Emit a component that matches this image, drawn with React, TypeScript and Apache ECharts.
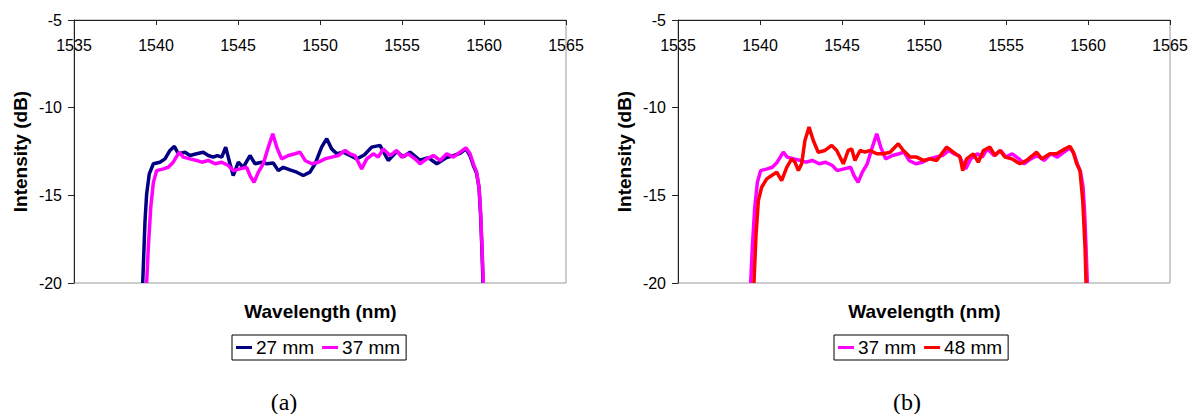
import React, { useEffect, useRef } from "react";
import * as echarts from "echarts";

// Wavelength (nm) / intensity (dB)
const wl27 = [1539.19, 1539.33, 1539.43, 1539.59, 1539.84, 1540.24, 1540.55, 1540.85, 1541.12, 1541.36, 1541.77, 1542.07, 1542.48, 1542.88, 1543.19, 1543.49, 1543.74, 1544.01, 1544.25, 1544.51, 1544.71, 1545.02, 1545.32, 1545.73, 1546.04, 1546.45, 1546.75, 1547.15, 1547.46, 1547.76, 1548.17, 1548.58, 1548.98, 1549.39, 1549.7, 1550.1, 1550.41, 1550.71, 1551.02, 1551.42, 1551.83, 1552.24, 1552.7, 1553.15, 1553.66, 1554.16, 1554.68, 1555.08, 1555.49, 1556.1, 1556.6, 1557.12, 1557.72, 1558.1, 1558.54, 1558.9, 1559.15, 1559.35, 1559.55, 1559.7, 1559.79, 1559.87, 1559.94];
const int27 = [-20, -16.45, -14.92, -13.78, -13.2, -13.11, -12.92, -12.44, -12.21, -12.63, -12.54, -12.73, -12.63, -12.54, -12.73, -12.82, -12.73, -12.82, -12.25, -13.2, -13.87, -13.11, -13.4, -12.73, -13.2, -13.11, -13.2, -13.16, -13.59, -13.4, -13.55, -13.68, -13.87, -13.68, -13.2, -12.25, -11.77, -12.35, -12.63, -12.54, -12.73, -12.92, -12.7, -12.25, -12.15, -13.01, -12.5, -12.8, -12.54, -13.0, -12.85, -13.2, -12.85, -12.75, -12.6, -12.35, -12.75, -13.3, -13.75, -14.6, -16.1, -18.0, -20];

const wl37 = [1539.43, 1539.53, 1539.68, 1539.84, 1540.04, 1540.45, 1540.75, 1541.05, 1541.42, 1541.66, 1542.07, 1542.48, 1542.79, 1543.19, 1543.6, 1544.01, 1544.41, 1544.71, 1545.12, 1545.53, 1545.73, 1545.98, 1546.24, 1546.54, 1546.85, 1547.12, 1547.36, 1547.66, 1548.07, 1548.48, 1548.78, 1549.09, 1549.49, 1549.9, 1550.3, 1550.71, 1551.12, 1551.52, 1551.83, 1552.13, 1552.54, 1552.85, 1553.25, 1553.55, 1553.86, 1554.27, 1554.68, 1554.98, 1555.38, 1555.79, 1556.1, 1556.51, 1556.91, 1557.32, 1557.73, 1558.13, 1558.54, 1558.9, 1559.15, 1559.35, 1559.55, 1559.7, 1559.8, 1559.88, 1559.96];
const int37 = [-20, -17.98, -15.69, -14.26, -13.59, -13.49, -13.4, -13.11, -12.54, -12.82, -12.92, -13.01, -13.11, -13.01, -13.2, -13.11, -13.3, -13.59, -13.49, -13.4, -13.87, -14.26, -13.68, -13.2, -12.25, -11.49, -12.25, -12.92, -12.73, -12.63, -12.54, -13.01, -13.2, -13.11, -12.92, -12.82, -12.73, -12.44, -12.63, -12.73, -13.49, -12.92, -12.63, -12.82, -12.35, -12.73, -12.44, -12.82, -12.63, -12.92, -13.2, -12.92, -12.73, -13.01, -12.63, -12.82, -12.54, -12.29, -12.63, -13.2, -13.68, -14.54, -16.07, -17.98, -20];

const wl48 = [1539.63, 1539.76, 1539.9, 1540.1, 1540.41, 1540.71, 1541.02, 1541.32, 1541.63, 1541.93, 1542.13, 1542.34, 1542.54, 1542.74, 1542.99, 1543.25, 1543.55, 1543.96, 1544.37, 1544.68, 1545.08, 1545.38, 1545.59, 1545.79, 1546.1, 1546.4, 1546.71, 1547.12, 1547.52, 1547.93, 1548.43, 1548.74, 1549.15, 1549.55, 1549.96, 1550.37, 1550.77, 1551.38, 1551.79, 1552.2, 1552.36, 1552.6, 1553.01, 1553.31, 1553.62, 1554.02, 1554.33, 1554.63, 1554.94, 1555.35, 1555.85, 1556.26, 1556.87, 1557.18, 1557.68, 1558.09, 1558.6, 1558.9, 1559.1, 1559.31, 1559.51, 1559.68, 1559.82, 1559.88];
const int48 = [-20, -17.21, -15.3, -14.54, -14.06, -13.87, -13.68, -14.16, -13.4, -12.92, -13.11, -13.59, -13.2, -11.87, -11.11, -11.87, -12.54, -12.44, -12.15, -12.44, -13.2, -12.44, -12.35, -13.01, -12.44, -12.54, -12.44, -12.63, -12.63, -12.54, -12.06, -12.44, -12.82, -12.82, -13.01, -12.92, -13.01, -12.25, -12.54, -12.82, -13.59, -12.92, -12.63, -13.11, -12.44, -12.25, -12.73, -12.44, -12.82, -12.92, -13.2, -13.01, -12.54, -12.92, -12.63, -12.63, -12.35, -12.21, -12.54, -13.2, -13.59, -15.3, -17.98, -20];

const xTicks = { min: 1535, max: 1565, step: 5 };
const yTicks = { min: -20, max: -5, step: 5 };
const captions = ["(a)", "(b)"];
const xTitle = "Wavelength (nm)";
const yTitle = "Intensity (dB)";

const pairs = (xs: number[], ys: number[]) => xs.map((x, i) => [x, ys[i]]);

const FONT = "Liberation Sans, Arial, sans-serif";

export default function App() {
  const ref = useRef<HTMLDivElement>(null);
  useEffect(() => {
    document.body.style.margin = "0";
    const chart = echarts.init(ref.current!, null, { renderer: "svg" });
    const offsets = [0, 604];
    const grids = offsets.map((o) => ({
      left: 74 + o,
      top: 20,
      width: 492,
      height: 263,
      show: true,
      borderColor: "#9a9a9a",
      borderWidth: 1,
      backgroundColor: "transparent",
    }));
    const xAxes = offsets.map((_, i) => ({
      type: "value",
      gridIndex: i,
      position: "top",
      min: xTicks.min,
      max: xTicks.max,
      interval: xTicks.step,
      axisLine: { onZero: false, lineStyle: { color: "#222", width: 1 } },
      axisTick: { inside: true, length: 5, lineStyle: { color: "#222" } },
      axisLabel: { inside: true, margin: 17, color: "#000", fontSize: 16, fontFamily: FONT, formatter: (v: number) => String(v) },
      splitLine: { show: false },
    }));
    const yAxes = offsets.map((_, i) => ({
      type: "value",
      gridIndex: i,
      min: yTicks.min,
      max: yTicks.max,
      interval: yTicks.step,
      axisLine: { show: true, onZero: false, lineStyle: { color: "#222", width: 1 } },
      axisTick: { show: true, length: 6, lineStyle: { color: "#222" } },
      axisLabel: { margin: 12, color: "#000", fontSize: 16, fontFamily: FONT, formatter: (v: number) => String(v) },
      splitLine: { show: false },
    }));
    const line = (name: string, color: string, data: number[][], idx: number) => ({
      name,
      type: "line",
      xAxisIndex: idx,
      yAxisIndex: idx,
      data,
      showSymbol: false,
      symbol: "none",
      lineStyle: { color, width: 3.5 },
      itemStyle: { color },
      clip: true,
    });
    const legendCommon = {
      top: 335,
      orient: "horizontal",
      icon: "rect",
      itemWidth: 16,
      itemHeight: 3,
      itemGap: 8,
      borderColor: "#000",
      borderWidth: 1,
      padding: [3, 6, 3, 4],
      textStyle: { fontSize: 19, color: "#000", fontFamily: FONT, padding: [0, 0, 0, -1] },
      selectedMode: false,
    };
    const texts: any[] = [];
    offsets.forEach((o, i) => {
      texts.push({
        type: "text",
        x: 320.5 + o,
        y: 311,
        style: { text: xTitle, font: `bold 19px ${FONT}`, fill: "#000", textAlign: "center", textVerticalAlign: "middle" },
      });
      texts.push({
        type: "text",
        x: 20 + o,
        y: 151.5,
        rotation: Math.PI / 2,
        style: { text: yTitle, font: `bold 19px ${FONT}`, fill: "#000", textAlign: "center", textVerticalAlign: "middle" },
      });
      texts.push({
        type: "text",
        x: [284, 907][i],
        y: 402,
        style: { text: captions[i], font: `24px "Liberation Serif", "Times New Roman", serif`, fill: "#000", textAlign: "center", textVerticalAlign: "middle" },
      });
    });
    chart.setOption({
      animation: false,
      backgroundColor: "#fff",
      grid: grids,
      xAxis: xAxes,
      yAxis: yAxes,
      legend: [
        { ...legendCommon, left: 232, data: ["27 mm", "37 mm"] },
        { ...legendCommon, left: 834, data: ["37 mm", "48 mm"] },
      ],
      graphic: texts,
      series: [
        line("27 mm", "#000080", pairs(wl27, int27), 0),
        line("37 mm", "#FF00FF", pairs(wl37, int37), 0),
        line("37 mm", "#FF00FF", pairs(wl37, int37), 1),
        line("48 mm", "#FF0000", pairs(wl48, int48), 1),
      ],
    });
    return () => chart.dispose();
  }, []);
  return <div ref={ref} style={{ width: 1195, height: 414 }} />;
}
